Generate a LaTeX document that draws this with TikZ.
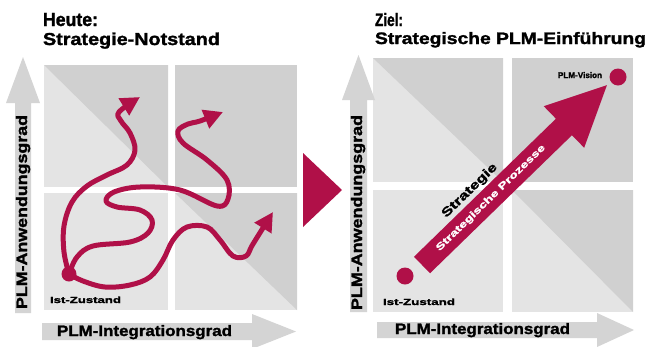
\documentclass[tikz,border=0pt]{standalone}
\usepackage{fontspec}
\setmainfont{Liberation Sans}[BoldFeatures={FakeBold=1.6}]
\usetikzlibrary{arrows.meta}
\definecolor{redm}{HTML}{B01048}
\definecolor{lgray}{HTML}{E4E4E4}
\definecolor{dgray}{HTML}{D0D0D0}
\definecolor{agray}{HTML}{D4D4D4}
\newcommand{\fitt}[3]{\resizebox{#1pt}{#2pt}{\bfseries #3}}
\begin{document}
\begin{tikzpicture}[x=1pt,y=-1pt,
  txt/.style={inner sep=0pt, outer sep=0pt, anchor=base west},
  squig/.style={draw=redm, line width=5pt, line cap=round, line join=round, -{Triangle[length=19pt,width=19pt]}},
  reddot/.style={circle, fill=redm, inner sep=0pt, minimum size=15pt}]
\useasboundingbox (0,0) rectangle (645,346);
\fill[white] (0,0) rectangle (645,346);

% ---------- left panel grid
\fill[lgray] (44,65) rectangle (168,187);
\fill[dgray] (44,65) -- (168,65) -- (168,187) -- cycle;
\fill[dgray] (175,65) rectangle (297,187);
\fill[lgray] (44,193) rectangle (168,310);
\fill[lgray] (175,193) rectangle (297,310);
\fill[dgray] (175,193) -- (297,193) -- (297,310) -- cycle;

% left axes
\fill[agray] (15,313) -- (15,103) -- (6,103) -- (23,57) -- (40,103) -- (31,103) -- (31,313) -- cycle;
\fill[agray] (42,323) -- (252,323) -- (252,314) -- (296,331.5) -- (252,349) -- (252,340) -- (42,340) -- cycle;
\node[txt, rotate=90] (yL) at (27,309) {\fitt{194}{11}{PLM-Anwendungsgrad}};
\node[txt] (xL) at (57,336) {\fitt{175}{11}{PLM-Integrationsgrad}};

% left titles
\node[txt] (t1) at (43,26) {\fitt{55}{13}{Heute:}};
\node[txt] (t2) at (43,45) {\fitt{177}{12.5}{Strategie-Notstand}};

% left squiggles
\node[reddot, minimum size=15pt] (dotL) at (69,274) {};
\draw[squig] plot[smooth, tension=0.6] coordinates {(dotL.center) (64,252) (64,226) (72,202) (87,186) (107,175) (127,165) (135,150) (130,133) (121,121) (119,112) (140,97)};
\draw[squig] plot[smooth, tension=0.6] coordinates {(dotL.center) (77,257) (93,246) (130,242) (148,233) (152,220) (140,210) (117,207) (106,201) (114,192) (140,187) (180,190) (217,206) (228,199) (227,180) (207,160) (183,143) (178,131) (188,124) (200,121) (223,112)};
\draw[squig] plot[smooth, tension=0.6] coordinates {(dotL.center) (83,281) (105,287) (130,285) (150,277) (163,260) (173,240) (187,227) (207,227) (220,240) (233,256) (246,256) (253,244) (273,212)};
\node[txt] (istL) at (50,303) {\fitt{71}{6.5}{Ist-Zustand}};

% middle triangle
\fill[redm] (303,153) -- (342,190) -- (303,227) -- cycle;

% ---------- right panel grid
\fill[lgray] (373,58) rectangle (503,182);
\fill[dgray] (373,58) -- (503,58) -- (503,182) -- cycle;
\fill[dgray] (512,58) rectangle (633,182);
\fill[lgray] (373,190) rectangle (503,312);
\fill[lgray] (512,190) rectangle (633,312);
\fill[dgray] (512,190) -- (633,190) -- (633,312) -- cycle;

% right axes
\fill[agray] (350,312) -- (350,100) -- (342,100) -- (358.5,55) -- (375,100) -- (367,100) -- (367,312) -- cycle;
\fill[agray] (377,322) -- (597,322) -- (597,313) -- (634,330) -- (597,347) -- (597,338) -- (377,338) -- cycle;
\node[txt, rotate=90] (yR) at (362,310) {\fitt{195}{11}{PLM-Anwendungsgrad}};
\node[txt] (xR) at (395,334) {\fitt{175}{11}{PLM-Integrationsgrad}};

% right titles
\node[txt] (t3) at (375,26) {\fitt{28}{13}{Ziel:}};
\node[txt] (t4) at (375,44) {\fitt{271}{12}{Strategische PLM-Einführung}};

% right arrow
\node[reddot, minimum size=17pt] (dotR1) at (405,276) {};
\node[reddot, minimum size=17pt] (dotR2) at (618,77) {};
\node[txt] (istR) at (383,305) {\fitt{72}{6.5}{Ist-Zustand}};
\node[txt] (vis) at (558,78) {\fitt{44}{6}{PLM-Vision}};
\begin{scope}[shift={(422,265)}, rotate=44.2]
  \fill[redm] (0,-11.5) -- (198,-11.5) -- (198,-29) -- (258,0) -- (198,29) -- (198,11.5) -- (0,11.5) -- cycle;
  \node[inner sep=0pt, rotate=44.2, text=white] (proc) at (96,0) {\fitt{148}{7}{Strategische Prozesse}};
  \node[inner sep=0pt, rotate=44.2] (strat) at (86,-20) {\fitt{72}{9}{Strategie}};
\end{scope}
\end{tikzpicture}
\end{document}
